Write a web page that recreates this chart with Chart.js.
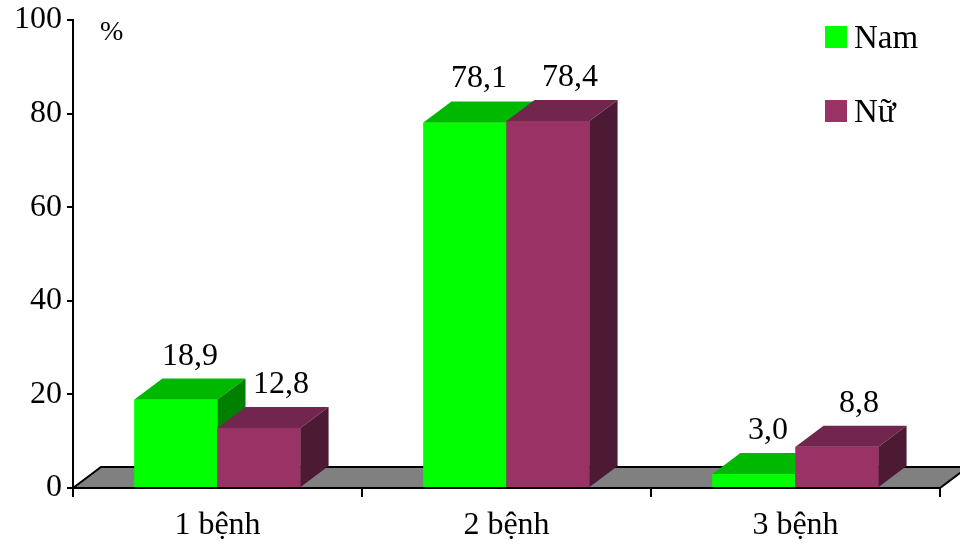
<!DOCTYPE html>
<html>
<head>
<meta charset="utf-8">
<title>Số bệnh theo giới</title>
<script src="https://cdn.jsdelivr.net/npm/chart.js"></script>
<style>
  html, body { margin: 0; padding: 0; background: #fff; }
</style>
</head>
<body>
<canvas id="chart" width="960" height="544"></canvas>
<script>
// data
const categories = ['1 bệnh', '2 bệnh', '3 bệnh'];
const seriesNames = ['Nam', 'Nữ'];
const namValues = [18.9, 78.1, 3.0];
const nuValues = [12.8, 78.4, 8.8];
const yTicks = [0, 20, 40, 60, 80, 100];
const unitLabel = '%';

const FONT = '"Liberation Serif", "Times New Roman", serif';
const DX = 28, DY = -21; // depth of the 3D floor / bars
const faces = [
    { front: '#00ff00', top: '#00b800', side: '#008000' },
    { front: '#993366', top: '#73264d', side: '#4d1a33' }
];

function fmt(v) {
    return v.toFixed(1).replace('.', ',');
}

// grey floor under the bars
const floorPlugin = {
    id: 'floor3d',
    beforeDatasetsDraw(chart) {
        const ctx = chart.ctx;
        const a = chart.chartArea;
        const y0 = chart.scales.y.getPixelForValue(0);
        ctx.save();
        ctx.beginPath();
        ctx.moveTo(a.left, y0);
        ctx.lineTo(a.left + DX, y0 + DY);
        ctx.lineTo(a.right + DX, y0 + DY);
        ctx.lineTo(a.right, y0);
        ctx.closePath();
        ctx.fillStyle = '#808080';
        ctx.fill();
        ctx.lineWidth = 2;
        ctx.strokeStyle = '#000';
        ctx.stroke();
        ctx.restore();
    }
};

// front, top and side faces, drawn category by category so later bars hide earlier sides
const barsPlugin = {
    id: 'bars3d',
    afterDatasetsDraw(chart) {
        const ctx = chart.ctx;
        ctx.save();
        for (let i = 0; i < categories.length; i++) {
            chart.data.datasets.forEach((ds, d) => {
                const el = chart.getDatasetMeta(d).data[i];
                const p = el.getProps(['x', 'y', 'base', 'width'], true);
                const l = p.x - p.width / 2, r = p.x + p.width / 2;
                const f = faces[d];
                ctx.fillStyle = f.front;
                ctx.fillRect(l, p.y, r - l, p.base - p.y);
                ctx.fillStyle = f.top;
                ctx.beginPath();
                ctx.moveTo(l, p.y);
                ctx.lineTo(l + DX, p.y + DY);
                ctx.lineTo(r + DX, p.y + DY);
                ctx.lineTo(r, p.y);
                ctx.closePath();
                ctx.fill();
                ctx.fillStyle = f.side;
                ctx.beginPath();
                ctx.moveTo(r, p.y);
                ctx.lineTo(r + DX, p.y + DY);
                ctx.lineTo(r + DX, p.base + DY);
                ctx.lineTo(r, p.base);
                ctx.closePath();
                ctx.fill();
            });
        }
        // value labels
        ctx.fillStyle = '#000';
        ctx.font = '32px ' + FONT;
        ctx.textAlign = 'center';
        ctx.textBaseline = 'alphabetic';
        chart.data.datasets.forEach((ds, d) => {
            chart.getDatasetMeta(d).data.forEach((el, i) => {
                const p = el.getProps(['x', 'y'], true);
                ctx.fillText(fmt(ds.data[i]), p.x + DX / 2 + (d ? 8 : 0), p.y + DY - 14);
            });
        });
        ctx.restore();
    }
};

// legend on the top right and the unit sign
const extrasPlugin = {
    id: 'extras',
    afterDraw(chart) {
        const ctx = chart.ctx;
        ctx.save();
        ctx.font = '33px ' + FONT;
        ctx.textBaseline = 'alphabetic';
        ctx.textAlign = 'left';
        chart.data.datasets.forEach((ds, d) => {
            const top = 26 + d * 74;
            ctx.fillStyle = faces[d].front;
            ctx.fillRect(825, top, 22, 22);
            ctx.fillStyle = '#000';
            ctx.fillText(ds.label, 854, top + 22);
        });
        ctx.font = '28px ' + FONT;
        ctx.fillText(unitLabel, 100, 40);
        ctx.restore();
    }
};

const ctx = document.getElementById('chart').getContext('2d');
const chart = new Chart(ctx, {
    type: 'bar',
    data: {
        labels: categories,
        datasets: [
            { label: seriesNames[0], data: namValues, backgroundColor: faces[0].front },
            { label: seriesNames[1], data: nuValues, backgroundColor: faces[1].front }
        ]
    },
    options: {
        responsive: false,
        animation: false,
        categoryPercentage: 0.575,
        barPercentage: 1,
        layout: { padding: { top: 20, right: 20, left: 0, bottom: 0 } },
        plugins: {
            legend: { display: false },
            tooltip: { enabled: false }
        },
        scales: {
            x: {
                afterFit(s) { s.height = 56; s.paddingLeft = 0; s.paddingRight = 0; },
                grid: { offset: true, drawOnChartArea: false, tickLength: 9, color: '#000', lineWidth: 2 },
                border: { display: true, color: '#000', width: 2 },
                ticks: { color: '#000', font: { family: FONT, size: 32 }, padding: 9, maxRotation: 0 }
            },
            y: {
                min: 0,
                max: 100,
                afterFit(s) { s.width = 73; s.paddingTop = 0; s.paddingBottom = 0; },
                afterBuildTicks(s) { s.ticks = yTicks.map(v => ({ value: v })); },
                grid: { drawOnChartArea: false, tickLength: 6, color: '#000', lineWidth: 2 },
                border: { display: true, color: '#000', width: 2 },
                ticks: { color: '#000', font: { family: FONT, size: 32 }, padding: 5 }
            }
        }
    },
    plugins: [floorPlugin, barsPlugin, extrasPlugin]
});
</script>
</body>
</html>
